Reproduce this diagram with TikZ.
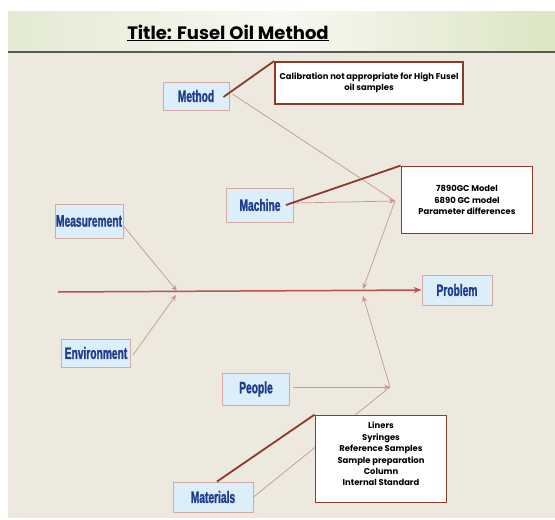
\documentclass[tikz,border=0pt]{standalone}
\usepackage{fontspec}
\setmainfont{Poppins}
\newfontfamily\causefont[FakeStretch=0.62, FakeBold=1.5]{Liberation Sans Bold}
\newfontfamily\titlefont{Poppins}
\usetikzlibrary{arrows.meta, positioning, backgrounds, calc}
\definecolor{slidebg}{HTML}{EDE9DF}
\definecolor{barleft}{HTML}{E3EAD2}
\definecolor{barmid}{HTML}{F7F8F1}
\definecolor{barright}{HTML}{DCE5C4}
\definecolor{barline}{HTML}{5A5A55}
\definecolor{boxfill}{HTML}{DDEEFB}
\definecolor{boxedge}{HTML}{D6A9A1}
\definecolor{causetext}{HTML}{1E3E8C}
\definecolor{bonecol}{HTML}{C49890}
\definecolor{spinecol}{HTML}{C0504D}
\definecolor{notecol}{HTML}{8A3B2C}
\tikzset{
  % cause boxes
  causebox/.style={
    rectangle, draw=boxedge, fill=boxfill, line width=0.9pt,
    text=causetext, font=\causefont\fontsize{16.5}{17}\selectfont,
    inner sep=1pt,
  },
  % note callouts
  notebox/.style={
    rectangle, draw=notecol, fill=white, line width=1.8pt,
    font=\bfseries\fontsize{8.4}{11.4}\selectfont, align=center, inner sep=2pt,
  },
  % arrows
  bone/.style={draw=bonecol, line width=0.7pt, -{Stealth[length=6pt, width=5pt]}},
  plainbone/.style={draw=bonecol, line width=0.7pt},
  spine/.style={draw=spinecol, line width=1.5pt, -{Stealth[length=8pt, width=6pt]}},
  callline/.style={draw=notecol, line width=1.8pt},
}

\begin{document}
\begin{tikzpicture}[x=1pt, y=-1pt]

  % slide background
  \useasboundingbox (0,0) rectangle (555,520);
  \fill[slidebg] (8,11) rectangle (555,518);
  \shade[left color=barleft, right color=barright, middle color=barmid] (8,11) rectangle (555,52);
  \draw[barline, line width=1.6pt] (8,52) -- (555,52);

  % title
  \node[font=\titlefont\bfseries\fontsize{18}{18}\selectfont] (title) at (228,33)
    {\underline{Title: Fusel Oil Method}};

  % causes
  \node[causebox, minimum width=66pt, minimum height=28pt] (method) at (196,96) {Method};
  \node[causebox, minimum width=67pt, minimum height=34pt] (machine) at (260,205) {Machine};
  \node[causebox, minimum width=68pt, minimum height=34pt] (measure) at (89,221) {Measurement};
  \node[causebox, minimum width=69pt, minimum height=28pt] (environ) at (96,353) {Environment};
  \node[causebox, minimum width=67pt, minimum height=32pt] (people) at (256,389) {People};
  \node[causebox, minimum width=80pt, minimum height=30pt] (materials) at (213,497) {Materials};
  \node[causebox, minimum width=70pt, minimum height=30pt] (problem) at (457,290) {Problem};

  % joints on the bones
  \coordinate (start) at (58,292);
  \coordinate (jleft) at (177,292);
  \coordinate (jmid) at (363,292);
  \coordinate (jup) at (395,201);
  \coordinate (jdown) at (390,387);

  % bones
  \draw[spine] (start) -- (problem.west);
  \draw[bone] (measure.east) ++(0,5) -- ($(jleft)+(0,-1)$);
  \draw[bone] (environ.east) ++(2,2) -- ($(jleft)+(-1,3)$);
  \draw[plainbone] (method.east) ++(3,-2) -- (jup);
  \draw[bone] (machine.east) ++(0,-2) -- (jup);
  \draw[bone] (jup) -- ($(jmid)+(0,-3)$);
  \draw[bone] (people.east) ++(3,-2) -- (jdown);
  \draw[plainbone] (materials.east) -- (jdown);
  \draw[bone] (jdown) -- ($(jmid)+(0,4)$);

  % notes
  \node[notebox, minimum width=188pt, minimum height=42pt] (note1) at (369,83)
    {Calibration not appropriate for High Fusel\\oil samples};
  \node[notebox, minimum width=131pt, minimum height=67pt] (note2) at (467,200)
    {7890GC Model\\6890 GC model\\Parameter differences};
  \node[notebox, minimum width=131pt, minimum height=87pt, text depth=10pt] (note3) at (381,459)
    {Liners\\Syringes\\Reference Samples\\Sample preparation\\Column\\Internal Standard};

  \draw[callline] (method.east) ++(-6,1) -- (note1.north west);
  \draw[callline] (machine.east) ++(-8,0) -- (note2.north west);
  \draw[callline] (materials.north) ++(4,0) -- (note3.north west);

\end{tikzpicture}
\end{document}
